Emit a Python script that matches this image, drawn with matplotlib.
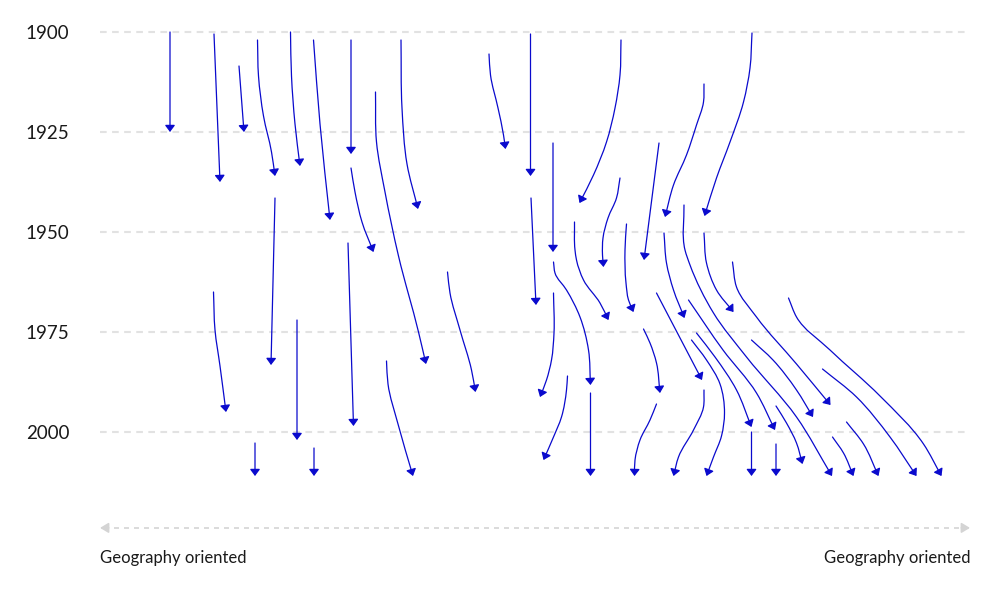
import numpy as np
import matplotlib
matplotlib.use("Agg")
import matplotlib.pyplot as plt
from matplotlib.path import Path
from matplotlib.patches import FancyArrowPatch

plt.rcParams['font.family'] = ['Lato', 'DejaVu Sans']

# waypoints of every arrow: horizontal position (0-870) and year
arrow_x = [
    [70, 70], [114, 120], [139, 144],
    [157.5, 158.5, 163.5, 171.5, 175],
    [190.5, 191.5, 195, 200],
    [213.5, 220, 230], [251, 251],
    [301, 302, 307, 318],
    [275.5, 276.5, 285, 298.5, 318.5, 326],
    [251, 255, 262, 273.5],
    [175, 171], [248, 253.5],
    [113.5, 115, 120, 126],
    [197, 197], [155, 155], [214, 214],
    [286.5, 288, 298, 313],
    [389, 390.5, 398, 403.5, 405.5],
    [430.5, 430.5], [453, 453],
    [521, 520, 515, 506.5, 493.5, 479.5],
    [520, 516.5, 508, 503, 502.5, 503.5],
    [559, 544],
    [604, 603.5, 596.5, 586.5, 573.5, 565],
    [652, 650, 643.5, 630, 616.5, 604.5],
    [474.5, 475, 476.5, 483.5, 500, 508.5],
    [526.5, 525, 526, 528.5, 533.5],
    [584, 585, 590, 613.5, 646.5, 696.5, 732],
    [564, 566.5, 573.5, 584.5],
    [604, 606.5, 616.5, 633.5],
    [632.5, 636.5, 656.5, 696.5, 730.5],
    [688.5, 696.5, 730, 780, 823.5, 841.5],
    [556.5, 602],
    [588.5, 623, 656.5, 675],
    [651.5, 673, 696.5, 713],
    [722.5, 756.5, 790, 816.5],
    [676, 686.5, 696.5, 702.5],
    [732.5, 743.5, 753.5],
    [746.5, 763.5, 778.5],
    [651.5, 651.5], [676, 676],
    [604, 603.5, 593.5, 578.5, 573.5],
    [347.5, 350, 360, 371.5, 375.5],
    [431, 436],
    [453.5, 454, 451.5, 446.5, 440],
    [453.5, 455, 466.5, 480, 488.5, 490.5],
    [467.5, 466.5, 461.5, 453.5, 443.5],
    [490.5, 490.5],
    [543.5, 550, 556.5, 560],
    [556.5, 550, 540, 535, 534.5],
    [596.5, 615, 636.5, 651.5],
    [591.5, 606.5, 620, 624.5, 621.5, 613.5, 606.5],
]
arrow_year = [
    [1900, 1925], [1900.5, 1937.5], [1908.5, 1925],
    [1902, 1911, 1921, 1930, 1936],
    [1900, 1911, 1923, 1933.5],
    [1902, 1923, 1947], [1902, 1930.5],
    [1902, 1919, 1933, 1944.25],
    [1915, 1927.5, 1940, 1956, 1975, 1983],
    [1934, 1940, 1947.5, 1955],
    [1941.5, 1983.25], [1952.75, 1998.5],
    [1965, 1974.5, 1983.5, 1995],
    [1972, 2002], [2002.75, 2011], [2004, 2011],
    [1982.25, 1988, 1998, 2011],
    [1905.5, 1910.75, 1919, 1925.75, 1929.25],
    [1900.5, 1936], [1927.75, 1955],
    [1902, 1910.75, 1919, 1927.5, 1935.75, 1942.75],
    [1936.5, 1941.5, 1946.5, 1951.5, 1955.75, 1958.75],
    [1927.75, 1957],
    [1913, 1917.5, 1923.25, 1930.75, 1938.25, 1946.25],
    [1900.25, 1909, 1917.5, 1927.5, 1936.5, 1946],
    [1947.5, 1954.5, 1957, 1962, 1967.75, 1972],
    [1948, 1954.5, 1962.75, 1967, 1970],
    [1943.25, 1954.5, 1958.25, 1970.25, 1981.25, 1996.25, 2011],
    [1950.25, 1957.75, 1964.5, 1971.5],
    [1950.25, 1957.75, 1964.5, 1970],
    [1957.5, 1963.75, 1971.25, 1983, 1993.25],
    [1966.5, 1971.25, 1979.5, 1991, 2003, 2011],
    [1965.25, 1987],
    [1967, 1979.5, 1990.25, 1999.5],
    [1977, 1982, 1989.5, 1996.25],
    [1984.25, 1991.25, 2001.25, 2011],
    [1993.5, 1997.75, 2002.75, 2008],
    [2001.25, 2005.25, 2011],
    [1997.5, 2003, 2011],
    [2000, 2011], [2003, 2011],
    [1989.5, 1993.75, 1999.5, 2006.25, 2011],
    [1960, 1965.25, 1974.5, 1984.5, 1990],
    [1941.5, 1968.25],
    [1965.25, 1975.25, 1982, 1987, 1991.25],
    [1957.5, 1960.25, 1964.5, 1971.25, 1979.5, 1988.25],
    [1986, 1989.5, 1996.25, 2001.25, 2007],
    [1990.25, 2011],
    [1974.25, 1977.75, 1982.75, 1990.25],
    [1993, 1997, 2002, 2007, 2011],
    [1975.25, 1981.25, 1989.5, 1998.75],
    [1977, 1982, 1988, 1995.25, 2001, 2006.25, 2011],
]
year_ticks = [1900, 1925, 1950, 1975, 2000]
axis_label = "Geography oriented"


def smooth_path(xs, ys):
    # chord-length Catmull-Rom through the waypoints, as cubic Bezier segments
    p = np.column_stack([xs, ys]).astype(float)
    q = p * [1.0, 4.0]          # roughly square units for the chord lengths
    d = np.hypot(*np.diff(q, axis=0).T)
    n = len(p)
    m = np.zeros_like(p)
    m[0] = (p[1] - p[0]) / d[0]
    m[-1] = (p[-1] - p[-2]) / d[-1]
    for i in range(1, n - 1):
        a, b = d[i - 1], d[i]
        m[i] = (b * (p[i] - p[i - 1]) / a + a * (p[i + 1] - p[i]) / b) / (a + b)
    verts = [p[0]]
    codes = [Path.MOVETO]
    for i in range(n - 1):
        verts += [p[i] + m[i] * d[i] / 3, p[i + 1] - m[i + 1] * d[i] / 3, p[i + 1]]
        codes += [Path.CURVE4] * 3
    return Path(verts, codes)


fig = plt.figure(figsize=(10, 6), dpi=100)
ax = fig.add_axes([0.1, 0.2, 0.87, 0.76])
ax.set_xlim(0, 870)
ax.set_ylim(2012, 1898)

for xs, ys in zip(arrow_x, arrow_year):
    arr = FancyArrowPatch(path=smooth_path(xs, ys),
                          arrowstyle='-|>,head_length=0.4,head_width=0.3',
                          mutation_scale=10, color='#0a0acd', lw=0.9)
    ax.add_patch(arr)

ax.set_yticks(year_ticks)
ax.set_yticklabels([str(y) for y in year_ticks], fontsize=13.5, color='#1a1a1a')
ax.tick_params(axis='y', length=0, pad=22)
ax.set_xticks([])
ax.yaxis.grid(True, color='#e2e2e2', linestyle=(0, (3.2, 2.6)), linewidth=1.5)
ax.set_axisbelow(True)
for s in ax.spines.values():
    s.set_visible(False)

# horizontal axis indicator below the plot
ay = -0.105
ax.plot([0.005, 0.995], [ay, ay], transform=ax.transAxes, clip_on=False,
        color='#d4d4d4', lw=1.2, linestyle=(0, (3, 3)))
for x0, x1 in [(0.01, 0.0), (0.99, 1.0)]:
    ax.annotate('', xy=(x1, ay), xytext=(x0, ay), xycoords='axes fraction',
                arrowprops=dict(arrowstyle='-|>,head_length=0.5,head_width=0.3',
                                color='#d4d4d4', lw=1.2, shrinkA=0, shrinkB=0,
                                mutation_scale=10))
ax.text(0, -0.171, axis_label, transform=ax.transAxes, ha='left', va='center',
        fontsize=12, color='#1a1a1a')
ax.text(1, -0.171, axis_label, transform=ax.transAxes, ha='right', va='center',
        fontsize=12, color='#1a1a1a')

fig.savefig('out.png', dpi=100)
